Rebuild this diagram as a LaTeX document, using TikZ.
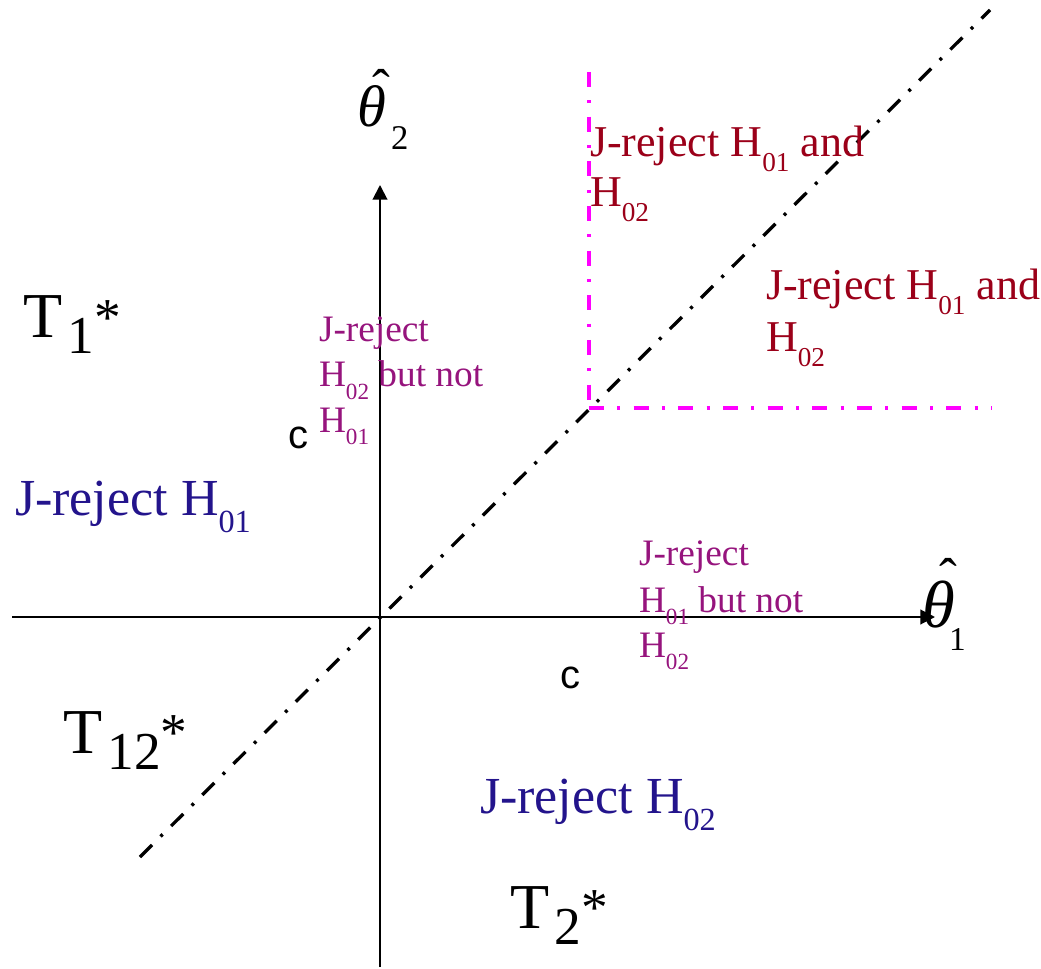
\documentclass[tikz,border=0pt]{standalone}
\usepackage{fontspec}
\setmainfont{Liberation Serif}
\newfontfamily\arialf{Liberation Sans}
\usetikzlibrary{arrows.meta}
\definecolor{jblue}{RGB}{35,20,140}
\definecolor{jred}{RGB}{155,0,25}
\definecolor{jpurple}{RGB}{150,20,125}
\definecolor{magline}{RGB}{255,0,255}
\newcommand\lsub[1]{\raisebox{-0.33em}{\scalebox{0.62}{#1}}}
\newcommand\fsz[1]{\fontsize{#1}{#1}\selectfont}
\newcommand\tlab[1]{{\fsz{48}T\hspace{4pt}\raisebox{-12pt}{\fsz{40}#1}\raisebox{2pt}{\fsz{40}*}}}
\begin{document}
\begin{tikzpicture}[x=0.75pt,y=-0.75pt,
  lbl/.style={inner sep=0pt,outer sep=0pt,anchor=base west},
  hatlbl/.style={inner sep=0pt,outer sep=0pt,anchor=base,font=\fsz{40}},
  axisline/.style={line width=1.5pt,-{Triangle[length=11pt,width=11pt]}},
  diagline/.style={line width=2.5pt,dash pattern=on 12.75pt off 9pt on 2.25pt off 9pt},
  magdash/.style={draw=magline,line width=2.7pt,dash pattern=on 11.25pt off 10pt on 2.25pt off 10pt},
  bigblue/.style={lbl,text=jblue,font=\fsz{39}},
  redtxt/.style={lbl,text=jred,font=\fsz{33}},
  smalltxt/.style={lbl,text=jpurple,font=\fsz{28}},
  ctxt/.style={lbl,font=\arialf\fsz{30}},
  tname/.style={lbl,text=black}]
\useasboundingbox (0,0) rectangle (1041,969);
% coordinates
\coordinate (O) at (380,617);
\coordinate (xs) at (12,617);
\coordinate (xe) at (935,617);
\coordinate (ys) at (380,967);
\coordinate (ye) at (380,185);
\coordinate (d1) at (140,857);
\coordinate (d2) at (990,10);
\coordinate (m1) at (589,72);
\coordinate (mc) at (589,408);
\coordinate (m2) at (992,408);
% lines
\draw[diagline] (d1) -- (d2);
\draw[magdash] (m1) -- (mc);
\draw[magdash] (mc) -- (m2);
\draw[axisline] (xs) -- (xe);
\draw[axisline] (ys) -- (ye);
% axis labels
\node[lbl] (th2) at (357,127) {\fsz{44}\itshape θ};
\node[hatlbl] (th2h) at (381,107) {ˆ};
\node[lbl] (th2s) at (391,150) {\fsz{26}2};
\node[lbl] (th1) at (922,627) {\fsz{50}\itshape θ};
\node[hatlbl] (th1h) at (948,595) {ˆ};
\node[lbl] (th1s) at (949,650) {\fsz{25}1};
% T labels
\node[tname] (t1) at (23,338) {\tlab{1}};
\node[tname] (t12) at (63,753) {\tlab{12}};
\node[tname] (t2) at (510,928) {\tlab{2}};
% blue labels
\node[bigblue] (b1) at (15,515) {J-reject H\lsub{01}};
\node[bigblue] (b2) at (480,813) {J-reject H\lsub{02}};
% red labels
\node[redtxt] (r1a) at (590,157) {J-reject H\lsub{01} and};
\node[redtxt] (r1b) at (590,207) {H\lsub{02}};
\node[redtxt] (r2a) at (766,300) {J-reject H\lsub{01} and};
\node[redtxt] (r2b) at (766,352) {H\lsub{02}};
% small purple labels
\node[smalltxt] (s1a) at (319,342) {J-reject};
\node[smalltxt] (s1b) at (319,387) {H\lsub{02} but not};
\node[smalltxt] (s1c) at (319,432) {H\lsub{01}};
\node[smalltxt] (s2a) at (639,565) {J-reject};
\node[smalltxt] (s2b) at (639,612) {H\lsub{01} but not};
\node[smalltxt] (s2c) at (639,657) {H\lsub{02}};
% c labels
\node[ctxt] (c1) at (288,448) {c};
\node[ctxt] (c2) at (560,688) {c};
\end{tikzpicture}
\end{document}
